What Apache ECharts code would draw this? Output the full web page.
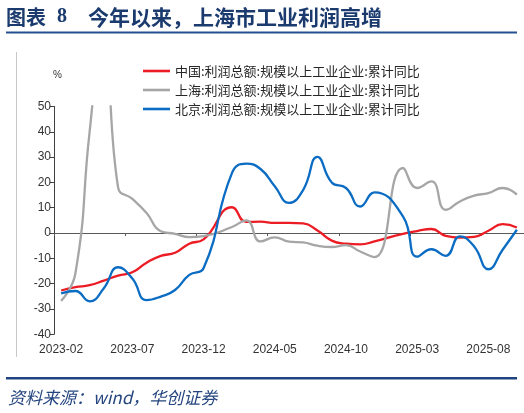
<!DOCTYPE html>
<html>
<head>
<meta charset="utf-8">
<title>今年以来，上海市工业利润高增</title>
<script src="https://cdn.jsdelivr.net/npm/echarts@6/dist/echarts.min.js"></script>
<style>
  html, body { margin: 0; padding: 0; background: #fff; }
  #chart { width: 524px; height: 413px; }
</style>
</head>
<body>
<div id="chart"></div>
<script>
// 月份（1月数据与2月合并发布，故1月为空）
var months = [
  '2023-02', '2023-03', '2023-04', '2023-05', '2023-06', '2023-07', '2023-08', '2023-09',
  '2023-10', '2023-11', '2023-12', '2024-01', '2024-02', '2024-03', '2024-04', '2024-05',
  '2024-06', '2024-07', '2024-08', '2024-09', '2024-10', '2024-11', '2024-12', '2025-01',
  '2025-02', '2025-03', '2025-04', '2025-05', '2025-06', '2025-07', '2025-08', '2025-09',
  '2025-10'
];

var seriesNames = [
  '中国:利润总额:规模以上工业企业:累计同比',
  '上海:利润总额:规模以上工业企业:累计同比',
  '北京:利润总额:规模以上工业企业:累计同比'
];

// 累计同比 %
var china = [-22.7, -21.4, -20.6, -18.8, -16.8, -15.5, -11.7, -9.0, -7.8, -4.2, -2.5, null,
  10.2, 4.4, 4.5, 4.0, 4.0, 3.8, 1.0, -3.0, -4.2, -4.5, -3.3, null,
  -0.3, 0.8, 1.6, -1.1, -1.8, -1.5, 0.9, 3.5, 2.2];
var shanghai = [-26.8, -16, 40, 85, 18, 13.5, 7.9, 0.7, -0.3, -1.6, -1.2, null,
  2.4, 5.0, -3.3, -1.7, -3.4, -3.7, -5.0, -5.5, -4.8, -7.3, -9.5, null,
  25.7, 17.8, 20.4, 9.2, 12.5, 14.8, 15.8, 17.8, 15.2];
var beijing = [-23.8, -22.9, -27.0, -21.8, -13.5, -18.0, -26.5, -25.1, -22.5, -16.5, -13.9, null,
  23.8, 27.4, 25.3, 18.5, 11.9, 17.1, 30.1, 20.0, 17.8, 10.5, 16.1, null,
  6.6, -9.3, -6.4, -9.0, -1.3, -5.3, -14.3, -6.6, 1.3];

var yTicks = { min: -40, max: 50, step: 10 };
var colors = ['#EC1C24', '#A6A6A6', '#0B6CC3'];

var chart = echarts.init(document.getElementById('chart'), null, { renderer: 'canvas' });

function lineSeries(name, data, color) {
  return {
    name: name,
    type: 'line',
    data: data,
    smooth: true,
    connectNulls: true,
    showSymbol: false,
    symbol: 'none',
    lineStyle: { color: color, width: 2.3 },
    itemStyle: { color: color },
    emphasis: { disabled: true }
  };
}

var option = {
  animation: false,
  backgroundColor: '#fff',
  grid: { left: 54, right: -1, top: 106.5, bottom: 78.7, containLabel: false },
  legend: {
    orient: 'vertical',
    left: 143,
    top: 63,
    itemWidth: 27,
    itemHeight: 2.6,
    itemGap: 3,
    icon: 'rect',
    padding: 0,
    data: seriesNames,
    textStyle: {
      fontFamily: '"Noto Sans CJK SC"',
      fontSize: 13,
      lineHeight: 16,
      color: '#262626'
    }
  },
  xAxis: [
    {
      // 底部的标签
      type: 'category',
      data: months,
      boundaryGap: true,
      axisLine: { show: false, onZero: false },
      axisTick: { show: false },
      splitLine: { show: false },
      axisLabel: {
        interval: 4,
        margin: 9,
        color: '#333',
        fontSize: 12,
        fontFamily: '"Liberation Sans", Arial'
      }
    },
    {
      // 零轴 + 刻度
      type: 'category',
      data: months,
      boundaryGap: true,
      position: 'bottom',
      axisLine: { show: true, onZero: true, lineStyle: { color: '#595959', width: 1 } },
      axisTick: { show: true, interval: 4, length: 3, lineStyle: { color: '#595959' } },
      axisLabel: { show: false },
      splitLine: { show: false }
    }
  ],
  yAxis: {
    type: 'value',
    min: yTicks.min,
    max: yTicks.max,
    interval: yTicks.step,
    axisLine: { show: true, lineStyle: { color: '#404040', width: 1 } },
    axisTick: { show: true, length: 4, lineStyle: { color: '#404040' } },
    splitLine: { show: false },
    axisLabel: {
      margin: 3,
      color: '#333',
      fontSize: 12,
      fontFamily: '"Liberation Sans", Arial'
    }
  },
  series: [
    lineSeries(seriesNames[0], china, colors[0]),
    lineSeries(seriesNames[1], shanghai, colors[1]),
    lineSeries(seriesNames[2], beijing, colors[2])
  ],
  graphic: [
    // 标题
    {
      type: 'text', left: 6, top: 7,
      style: { text: '图表', fill: '#1B3B6F', font: 'bold 20px "Noto Sans CJK SC"' }
    },
    {
      type: 'text', left: 57, top: 7,
      style: { text: '8', fill: '#1B3B6F', font: 'bold 20px "Liberation Serif"' }
    },
    {
      type: 'text', left: 88, top: 6.5,
      style: { text: '今年以来，上海市工业利润高增', fill: '#1B3B6F', font: 'bold 21px "Noto Sans CJK SC"' }
    },
    {
      type: 'rect', left: 6, top: 31.5,
      shape: { width: 511, height: 2 },
      style: { fill: '#24508F' }
    },
    // 左侧边框线
    {
      type: 'rect', left: 16, top: 52,
      shape: { width: 1, height: 305 },
      style: { fill: '#C8C8C8' }
    },
    // 单位
    {
      type: 'text', left: 53, top: 70,
      style: { text: '%', fill: '#333', font: '10px "Liberation Sans"' }
    },
    // 底部线与来源
    {
      type: 'rect', left: 6, top: 377,
      shape: { width: 511, height: 2.5 },
      style: { fill: '#1F447F' }
    },
    {
      type: 'text', left: 8, top: 389,
      style: { text: '资料来源：wind，华创证券', fill: '#24457F', font: 'italic 17px "Noto Sans CJK SC"' }
    }
  ]
};

chart.setOption(option);
</script>
</body>
</html>
